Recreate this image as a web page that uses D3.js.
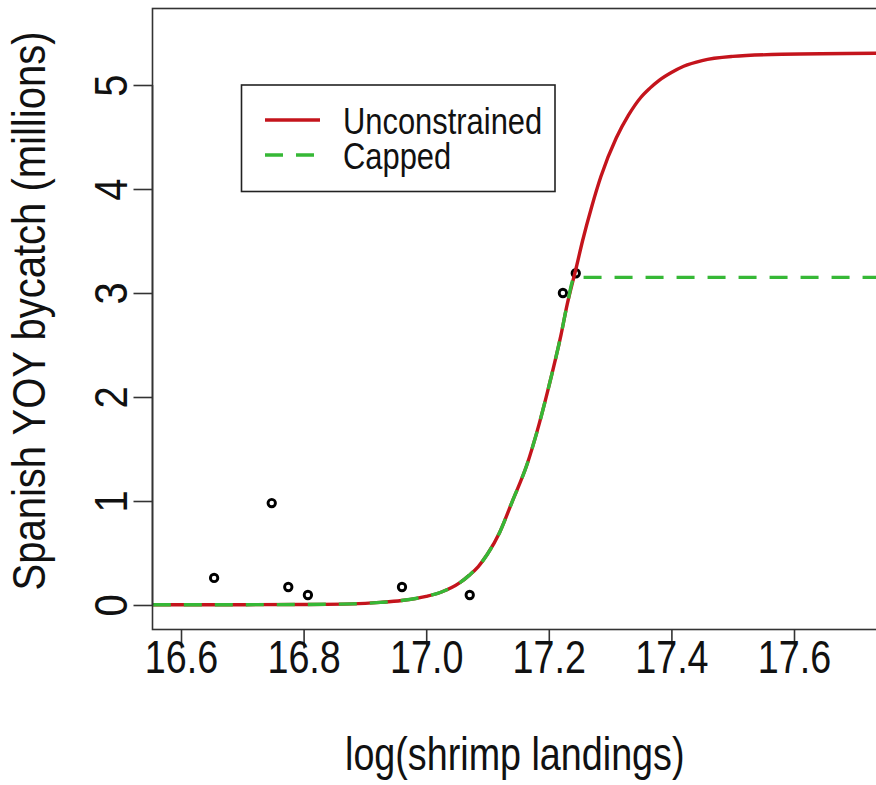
<!DOCTYPE html>
<html>
<head>
<meta charset="utf-8">
<script src="https://cdn.jsdelivr.net/npm/d3@7"></script>
<style>
  html, body { margin: 0; padding: 0; background: #fff; }
  svg { display: block; }
  text { font-family: "Liberation Sans", Arial, sans-serif; fill: #111; }
</style>
</head>
<body>
<svg id="chart" width="876" height="785"></svg>
<script>
// ---- data ----
const curveX = [16.554, 16.70, 16.80, 16.88, 16.925, 16.96, 17.00, 17.025, 17.055, 17.07, 17.085, 17.10, 17.12, 17.14, 17.165, 17.18, 17.20, 17.22, 17.23, 17.245, 17.255, 17.27, 17.285, 17.31, 17.33, 17.35, 17.365, 17.38, 17.40, 17.42, 17.45, 17.50, 17.58, 17.74];
const unconstrained = [0.002, 0.003, 0.005, 0.011, 0.025, 0.043, 0.083, 0.125, 0.215, 0.285, 0.37, 0.49, 0.70, 0.99, 1.36, 1.65, 2.10, 2.60, 2.89, 3.25, 3.50, 3.83, 4.12, 4.49, 4.71, 4.88, 4.97, 5.045, 5.12, 5.18, 5.235, 5.275, 5.295, 5.305];
const cappedX = [16.554, 16.70, 16.80, 16.88, 16.925, 16.96, 17.00, 17.025, 17.055, 17.07, 17.085, 17.10, 17.12, 17.14, 17.165, 17.18, 17.20, 17.22, 17.23, 17.242, 17.74];
const capped = [0.002, 0.003, 0.005, 0.011, 0.025, 0.043, 0.083, 0.125, 0.215, 0.285, 0.37, 0.49, 0.70, 0.99, 1.36, 1.65, 2.10, 2.60, 2.89, 3.15, 3.15];
const obsX = [16.654, 16.748, 16.775, 16.807, 16.9605, 17.071, 17.223, 17.244];
const obsY = [0.26, 0.98, 0.173, 0.096, 0.173, 0.096, 3.0, 3.19];
const xTicks = [16.6, 16.8, 17.0, 17.2, 17.4, 17.6];
const yTicks = [0, 1, 2, 3, 4, 5];
const seriesNames = ["Unconstrained", "Capped"];
const xTitle = "log(shrimp landings)";
const yTitle = "Spanish YOY bycatch (millions)";

// ---- layout ----
const plot = { left: 152.5, top: 8.5, right: 877, bottom: 629.5 };
const RED = "#c4141c", GREEN = "#36b836";
const NARROW = 0.82;      // horizontal glyph compression seen in the reference
const NARROW_V = 0.87;    // compression along rotated text

const svg = d3.select("#chart");
const x = d3.scaleLinear().domain([16.5535, 17.7354]).range([plot.left, plot.right]);
const y = d3.scaleLinear().domain([-0.2356, 5.7356]).range([plot.bottom, plot.top]);

svg.append("defs").append("clipPath").attr("id", "clip")
  .append("rect").attr("x", plot.left).attr("y", plot.top)
  .attr("width", plot.right - plot.left).attr("height", plot.bottom - plot.top);

// points
const pts = obsX.map((d, i) => ({ x: d, y: obsY[i] }));
svg.append("g").selectAll("circle").data(pts).join("circle")
  .attr("cx", d => x(d.x)).attr("cy", d => y(d.y)).attr("r", 3.7)
  .attr("fill", "none").attr("stroke", "#000").attr("stroke-width", 2.9);

// lines
const line = d3.line().x(d => x(d[0])).y(d => y(d[1])).curve(d3.curveMonotoneX);
const g = svg.append("g").attr("clip-path", "url(#clip)");
g.append("path").datum(curveX.map((d, i) => [d, unconstrained[i]]))
  .attr("d", line).attr("fill", "none").attr("stroke", RED).attr("stroke-width", 3.4);
g.append("path").datum(cappedX.map((d, i) => [d, capped[i]]))
  .attr("d", line).attr("fill", "none").attr("stroke", GREEN).attr("stroke-width", 3.4)
  .attr("stroke-dasharray", "18,13");

// box
svg.append("rect").attr("x", plot.left).attr("y", plot.top)
  .attr("width", plot.right - plot.left).attr("height", plot.bottom - plot.top)
  .attr("fill", "none").attr("stroke", "#333").attr("stroke-width", 1.6);

// axes
const xAxis = d3.axisBottom(x).tickValues(xTicks).tickSize(19).tickSizeOuter(0)
  .tickFormat(d3.format(".1f"));
const xg = svg.append("g").attr("transform", `translate(0,${plot.bottom})`).call(xAxis);
xg.select(".domain").remove();
xg.selectAll(".tick line").attr("stroke", "#333").attr("stroke-width", 1.6);
xg.selectAll(".tick text").attr("y", 44).attr("dy", null)
  .attr("transform", `scale(${NARROW},1)`)
  .style("font-size", "46px").style("font-family", '"Liberation Sans", Arial, sans-serif').attr("fill", "#111");

const yAxis = d3.axisLeft(y).tickValues(yTicks).tickSize(19).tickSizeOuter(0)
  .tickFormat(d3.format("d"));
const yg = svg.append("g").attr("transform", `translate(${plot.left},0)`).call(yAxis);
yg.select(".domain").attr("d", `M0,${y(0)}V${y(5)}`).attr("stroke", "#333").attr("stroke-width", 1.6);
yg.selectAll(".tick line").attr("stroke", "#333").attr("stroke-width", 1.6);
yg.selectAll(".tick text").attr("x", 0).attr("y", -26).attr("dy", null)
  .attr("text-anchor", "middle")
  .attr("transform", `rotate(-90) scale(${NARROW_V},1)`)
  .style("font-size", "46px").style("font-family", '"Liberation Sans", Arial, sans-serif').attr("fill", "#111");

// axis titles
const cx = (plot.left + plot.right) / 2, cy = (plot.top + plot.bottom) / 2;
svg.append("g").attr("transform", `translate(${cx},770) scale(${NARROW},1)`)
  .append("text").attr("text-anchor", "middle").style("font-size", "46px").text(xTitle);
svg.append("g").attr("transform", `translate(45,${cy - 8}) rotate(-90) scale(${NARROW_V},1)`)
  .append("text").attr("text-anchor", "middle").style("font-size", "46px").text(yTitle);

// legend
const lg = svg.append("g");
lg.append("rect").attr("x", 241.5).attr("y", 85).attr("width", 313.5).attr("height", 106.5)
  .attr("fill", "#fff").attr("stroke", "#222").attr("stroke-width", 1.6);
const rows = [
  { name: seriesNames[0], color: RED, dash: null, yy: 120 },
  { name: seriesNames[1], color: GREEN, dash: "18,13", yy: 155 }
];
rows.forEach(r => {
  lg.append("line").attr("x1", 265).attr("x2", 320).attr("y1", r.yy).attr("y2", r.yy)
    .attr("stroke", r.color).attr("stroke-width", 3.4).attr("stroke-dasharray", r.dash);
  lg.append("g").attr("transform", `translate(343,${r.yy + 14}) scale(0.835,1)`)
    .append("text").style("font-size", "37px").text(r.name);
});
</script>
</body>
</html>
